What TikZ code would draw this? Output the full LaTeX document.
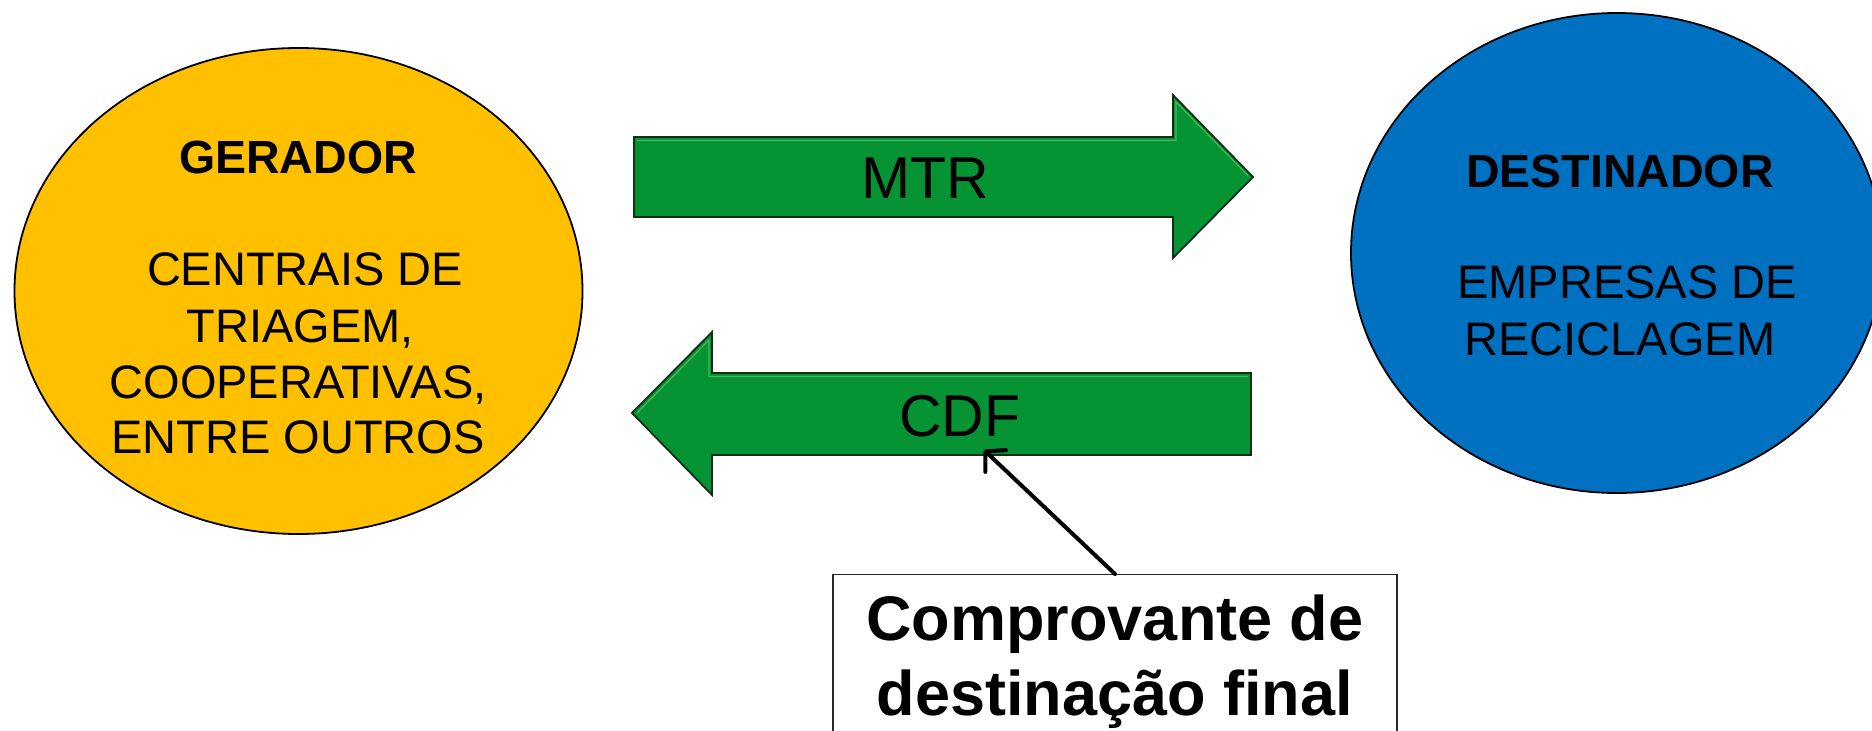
\documentclass[tikz,border=0pt]{standalone}
\usepackage{fontspec}
\setmainfont{Liberation Sans}
\usetikzlibrary{shapes.geometric,arrows.meta}
\definecolor{goldfill}{RGB}{255,192,0}
\definecolor{bluefill}{RGB}{0,112,192}
\definecolor{greenfill}{RGB}{6,147,52}
\definecolor{greenedge}{RGB}{20,45,22}
\definecolor{greenlight}{RGB}{70,185,95}
\definecolor{boxedge}{RGB}{40,40,40}
\begin{document}
\begin{tikzpicture}[x=1pt,y=-1pt,
  blob/.style={ellipse, draw=black, line width=1.8pt, inner sep=0pt},
  fatarrow/.style={fill=greenfill, draw=greenedge, line width=1.8pt, line join=miter},
  bevel/.style={draw=greenlight, line width=1.2pt},
  lbl/.style={anchor=base, inner sep=0pt, font=\fontsize{47}{56}\selectfont},
  lblb/.style={lbl, font=\fontsize{46.5}{56}\selectfont\bfseries},
  arrowtxt/.style={anchor=base, inner sep=0pt, font=\fontsize{59}{70}\selectfont},
  notetxt/.style={anchor=base, inner sep=0pt, font=\fontsize{63}{75}\selectfont\bfseries},
  notebox/.style={draw=boxedge, fill=white, line width=1.4pt, inner sep=0pt},
  pointer/.style={draw=black, line width=4pt, line cap=round, -{Straight Barb[length=14pt,width=30pt,round]}}
]
\clip (0,0) rectangle (1872,731);
\fill[white] (0,0) rectangle (1872,731);

% ellipses
\node[blob, fill=goldfill, minimum width=568pt, minimum height=486pt] (gerador) at (298.5,291) {};
\node[blob, fill=bluefill, minimum width=532pt, minimum height=480pt] (destinador) at (1617,253) {};

% left ellipse text
\node[lblb] (g1) at (298,173) {GERADOR};
\node[lbl] (g2) at (305,285) {CENTRAIS DE};
\node[lbl] (g3) at (300,342) {TRIAGEM,};
\node[lbl] (g4) at (298,398) {COOPERATIVAS,};
\node[lbl] (g5) at (298,453) {ENTRE OUTROS};

% right ellipse text
\node[lblb] (d1) at (1620,187) {DESTINADOR};
\node[lbl] (d2) at (1627,298) {EMPRESAS DE};
\node[lbl] (d3) at (1620,355) {RECICLAGEM};

% MTR arrow (to the right)
\path[fatarrow] (634,137) -- (1173,137) -- (1173,95) -- (1253,177) -- (1173,258) -- (1173,217) -- (634,217) -- cycle;
\draw[bevel] (637,140.5) -- (1176,140.5) -- (1176,102) -- (1248,175.5);
\node[arrowtxt] (mtr) at (925,198) {MTR};

% CDF arrow (to the left)
\path[fatarrow] (1251,373) -- (712,373) -- (712,332) -- (632,413) -- (712,495) -- (712,455) -- (1251,455) -- cycle;
\draw[bevel] (1248,376.5) -- (709,376.5) -- (709,340) -- (637,413);
\node[arrowtxt] (cdf) at (960,436) {CDF};

% note box
\node[notebox, anchor=north, minimum width=564pt, minimum height=260pt] (note) at (1115,574) {};
\node[notetxt] (n1) at (1115,640) {Comprovante de};
\node[notetxt] (n2) at (1115,715) {destinação final};

\coordinate (cdfpoint) at (984,450);
\draw[pointer] (note.north) -- (cdfpoint);
\end{tikzpicture}
\end{document}
